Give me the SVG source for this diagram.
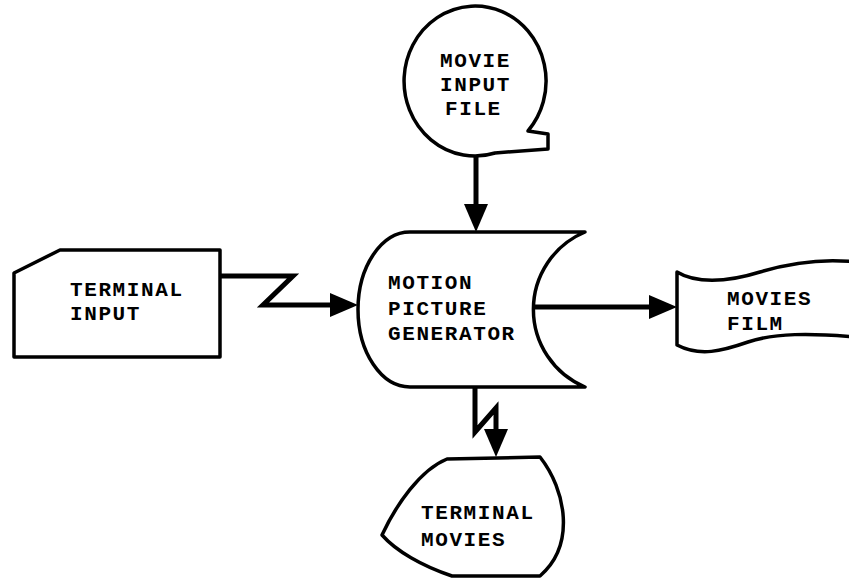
<svg xmlns="http://www.w3.org/2000/svg" width="849" height="579" viewBox="0 0 849 579">
<style>
.node{fill:#fff;stroke:#000;stroke-width:3.5;stroke-linejoin:round}
.lbl{font-family:"Liberation Mono","DejaVu Sans Mono",monospace;font-weight:bold;font-size:21px;letter-spacing:1.6px;fill:#000}
.conn{fill:none;stroke:#000;stroke-width:5;stroke-linejoin:miter}
</style>
<defs>
<marker id="arrow" viewBox="0 0 28 24" markerWidth="28" markerHeight="24" refX="1" refY="12" markerUnits="userSpaceOnUse" orient="auto">
<path d="M0,0 L28,12 L0,24 Z" fill="#000"/>
</marker>
</defs>
<rect width="849" height="579" fill="#fff"/>
<g id="connectors">
<path class="conn" d="M476,157 L476,205" marker-end="url(#arrow)"/>
<path class="conn" d="M220,276 L293,276 L263,305 L331,305" marker-end="url(#arrow)"/>
<path class="conn" d="M533,307 L650,307" marker-end="url(#arrow)"/>
<path class="conn" d="M475,387 L475,432 L496,408 L496,430" marker-end="url(#arrow)"/>
</g>
<g id="movie-input-file">
<path class="node" d="M528,131 A71,75 0 1 0 495,153 L548,149 L548,134 Z"/>
<text class="lbl" x="440" y="67">MOVIE</text>
<text class="lbl" x="440" y="91">INPUT</text>
<text class="lbl" x="445" y="115">FILE</text>
</g>
<g id="terminal-input">
<path class="node" d="M14,273 L60,250 L220,250 L220,357 L14,357 Z"/>
<text class="lbl" x="70" y="296">TERMINAL</text>
<text class="lbl" x="70" y="320">INPUT</text>
</g>
<g id="motion-picture-generator">
<path class="node" d="M410,232 L585,232 A84,84 0 0 0 585,387 L410,387 A52,77.5 0 0 1 410,232 Z"/>
<text class="lbl" x="388" y="289">MOTION</text>
<text class="lbl" x="388" y="315">PICTURE</text>
<text class="lbl" x="388" y="340">GENERATOR</text>
</g>
<g id="movies-film">
<path class="node" d="M677,272 C695,283 725,283 760,272 C790,263 820,258 856,262 L856,337 C810,333 775,333 748,342 C722,351 700,357 677,345 Z"/>
<text class="lbl" x="727" y="305">MOVIES</text>
<text class="lbl" x="727" y="330">FILM</text>
</g>
<g id="terminal-movies">
<path class="node" d="M447,459 L540,457 C566,490 576,545 540,576 L452,576 C422,566 396,551 382,535 C396,505 420,470 447,459 Z"/>
<text class="lbl" x="421" y="519">TERMINAL</text>
<text class="lbl" x="421" y="546">MOVIES</text>
</g>
</svg>
